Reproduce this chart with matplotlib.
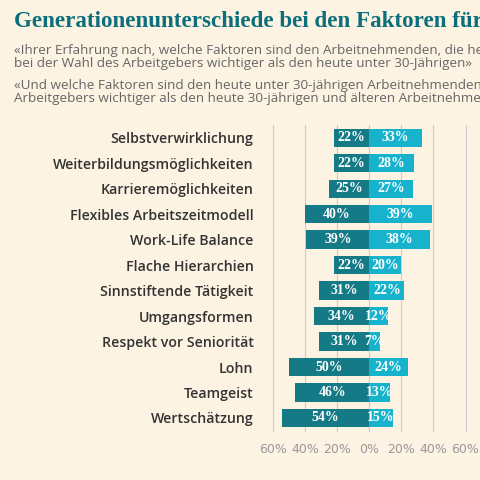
import matplotlib
matplotlib.use("Agg")
import matplotlib.pyplot as plt

categories = ["Selbstverwirklichung", "Weiterbildungsmöglichkeiten", "Karrieremöglichkeiten",
              "Flexibles Arbeitszeitmodell", "Work-Life Balance", "Flache Hierarchien",
              "Sinnstiftende Tätigkeit", "Umgangsformen", "Respekt vor Seniorität",
              "Lohn", "Teamgeist", "Wertschätzung"]
older = [22, 22, 25, 40, 39, 22, 31, 34, 31, 50, 46, 54]
younger = [33, 28, 27, 39, 38, 20, 22, 12, 7, 24, 13, 15]
ticks = [-60, -40, -20, 0, 20, 40, 60]
tick_labels = ["60%", "40%", "20%", "0%", "20%", "40%", "60%"]

bg = "#fcf3e3"
dark = "#137a86"
light = "#17b2cc"
fig = plt.figure(figsize=(4.8, 4.8), dpi=100, facecolor=bg)
W = H = 480
ax = fig.add_axes([255/W, 1-432/H, 225/W, (432-125)/H])
ax.set_facecolor(bg)
n = len(categories)
y = list(range(n))
ax.barh(y, [-v for v in older], height=0.72, color=dark, zorder=3)
ax.barh(y, younger, height=0.72, color=light, zorder=3)
for i in range(n):
    ax.text(-older[i]/2, i, f"{older[i]}%", ha="center", va="center", color="white",
            fontsize=10, fontweight="bold", family="Liberation Serif", zorder=4)
    ax.text(younger[i]/2, i, f"{younger[i]}%", ha="center", va="center", color="white",
            fontsize=10, fontweight="bold", family="Liberation Serif", zorder=4)
ax.set_ylim(n-0.5+0.05, -0.5-0.0)
ax.set_xlim(-71, 69)
ax.set_xticks(ticks)
ax.set_xticklabels(tick_labels, color="#999999", fontsize=9)
ax.set_yticks(y)
ax.set_yticklabels(categories, fontsize=10.2, fontweight="semibold", family="Open Sans", color="#333333")
ax.tick_params(axis="y", length=0, pad=1)
ax.tick_params(axis="x", length=0, pad=8)
for t in ticks:
    ax.axvline(t, color="#cccccc", lw=0.8, zorder=1)
for s in ax.spines.values():
    s.set_visible(False)

fig.text(14/W, 1-22/H, "Generationenunterschiede bei den Faktoren für die Wahl des Arbeitgebers",
         fontsize=16.6, fontweight="bold", color="#0e6f7c", family="Liberation Serif", va="center")
fig.text(14/W, 1-57/H, "«Ihrer Erfahrung nach, welche Faktoren sind den Arbeitnehmenden, die heute 30 Jahre und älter sind,\nbei der Wahl des Arbeitgebers wichtiger als den heute unter 30-Jährigen»",
         fontsize=9.7, family="Open Sans", color="#666666", va="center", linespacing=1.05)
fig.text(14/W, 1-92/H, "«Und welche Faktoren sind den heute unter 30-jährigen Arbeitnehmenden bei der Wahl des\nArbeitgebers wichtiger als den heute 30-jährigen und älteren Arbeitnehmenden?»",
         fontsize=9.7, family="Open Sans", color="#666666", va="center", linespacing=1.05)
fig.savefig("out.png", facecolor=bg)
